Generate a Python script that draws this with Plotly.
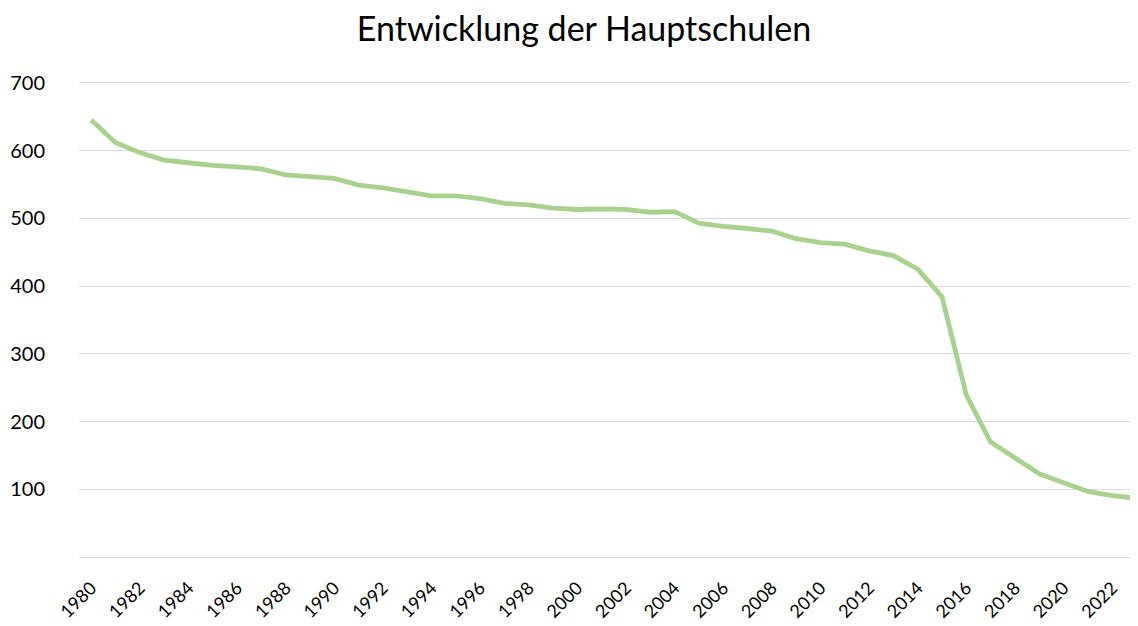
import plotly.graph_objects as go

# Anzahl der Hauptschulen pro Jahr
years = list(range(1980, 2024))
schools = [645, 612, 597, 586, 582, 578, 576, 573, 564, 562,
           559, 549, 545, 539, 533, 533, 529, 522, 520, 515,
           513, 514, 513, 509, 510, 493, 488, 485, 481, 470,
           464, 462, 452, 445, 425, 384, 239, 170, 147, 123,
           110, 97, 91, 87]

x_ticks = list(range(1980, 2023, 2))
y_ticks = [0, 100, 200, 300, 400, 500, 600, 700]
y_labels = [""] + [str(v) for v in y_ticks[1:]]

fig = go.Figure()
fig.add_trace(go.Scatter(x=years, y=schools, mode="lines",
                         line=dict(color="#A9D18E", width=4.8),
                         showlegend=False))

# die Seite hat 8px Rand, daher etwas kleiner und nach links/oben verschoben
fig.update_layout(
    width=1130, height=618,
    margin=dict(l=71, r=0, t=68, b=62),
    paper_bgcolor="white", plot_bgcolor="white",
    font=dict(family="Lato, Open Sans, sans-serif", color="#000000"),
    title=dict(text="Entwicklung der Hauptschulen", x=0.5097, xanchor="center",
               y=0.966, yanchor="middle", font=dict(size=34, color="#000000")),
)
fig.update_xaxes(range=[1979.5, 2023.06], tickvals=x_ticks, tickangle=-45,
                 showgrid=False, showline=False, zeroline=False,
                 ticklabelstandoff=9,
                 tickfont=dict(size=18), automargin=False)
# Bereich etwas größer, damit die Gitterlinien bei 0 und 700 sichtbar bleiben
fig.update_yaxes(range=[-10, 710], tickvals=y_ticks, ticktext=y_labels,
                 showgrid=True, gridcolor="#D9D9D9", gridwidth=1.3,
                 zeroline=False, showline=False, ticklabelstandoff=33,
                 tickfont=dict(size=20), automargin=False)

fig.write_html("out.html")
